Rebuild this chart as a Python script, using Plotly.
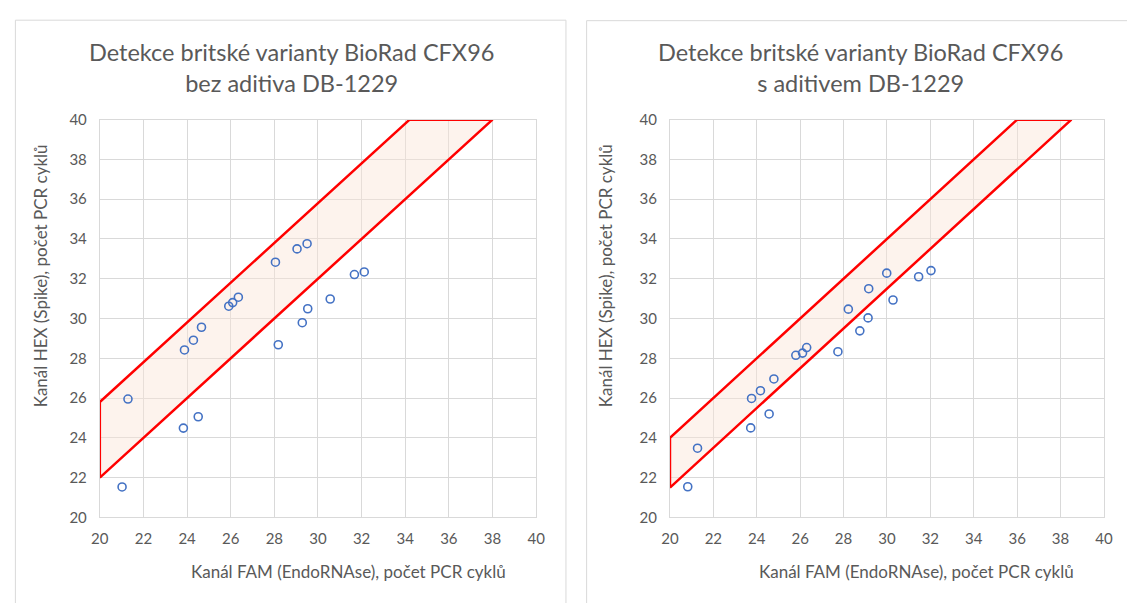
import plotly.graph_objects as go

# ---- data ----
fam_without = [21.29, 21.02, 23.83, 24.51, 23.88, 24.29, 24.66, 25.91, 26.09, 26.35,
               28.05, 29.04, 29.50, 28.18, 29.28, 29.53, 30.56, 31.67, 32.12]
hex_without = [25.95, 21.53, 24.49, 25.06, 28.42, 28.91, 29.56, 30.62, 30.80, 31.07,
               32.83, 33.50, 33.76, 28.68, 29.79, 30.49, 30.98, 32.21, 32.34]

fam_with = [20.82, 21.27, 23.72, 24.57, 23.76, 24.17, 24.79, 25.80, 26.11, 26.30,
            27.74, 28.22, 28.75, 29.13, 29.16, 29.99, 30.28, 31.46, 32.03]
hex_with = [21.54, 23.48, 24.50, 25.20, 25.98, 26.37, 26.96, 28.15, 28.26, 28.54,
            28.33, 30.47, 29.38, 30.03, 31.50, 32.28, 30.93, 32.10, 32.41]

band_without_x = [20, 20, 34.2, 38.0, 20]
band_without_y = [22.0, 25.8, 40, 40, 22.0]
band_with_x = [20, 20, 36.0, 38.5, 20]
band_with_y = [21.5, 24.0, 40, 40, 21.5]

tick_vals = [20, 22, 24, 26, 28, 30, 32, 34, 36, 38, 40]

titles = ["Detekce britské varianty BioRad CFX96<br>bez aditiva DB-1229",
          "Detekce britské varianty BioRad CFX96<br>s aditivem DB-1229"]
x_title = "Kanál FAM (EndoRNAse), počet PCR cyklů"
y_title = "Kanál HEX (Spike), počet PCR cyklů"

W, H = 1127, 603
FONT = "Lato"
GRID = "#D9D9D9"
TXT = "#595959"

fig = go.Figure()

for i, (bx, by, fx, hy) in enumerate([
        (band_without_x, band_without_y, fam_without, hex_without),
        (band_with_x, band_with_y, fam_with, hex_with)]):
    xa = "x" if i == 0 else "x2"
    ya = "y" if i == 0 else "y2"
    fig.add_trace(go.Scatter(x=bx, y=by, mode="lines", fill="toself",
                             fillcolor="rgba(251,229,214,0.45)",
                             line=dict(color="#FF0000", width=2.5),
                             xaxis=xa, yaxis=ya, showlegend=False, hoverinfo="skip"))
    fig.add_trace(go.Scatter(x=fx, y=hy, mode="markers",
                             marker=dict(symbol="circle-open", size=8,
                                         color="#4472C4", line=dict(width=1.6)),
                             xaxis=xa, yaxis=ya, showlegend=False))

def px_x(p):
    return p / W

def px_y(p):
    return 1 - p / H

ax_common = dict(range=[20, 40], tickvals=tick_vals, showgrid=True, gridcolor=GRID,
                 gridwidth=1, showline=True, linecolor=GRID, linewidth=1, mirror=True,
                 zeroline=False, tickfont=dict(family=FONT, size=15, color=TXT),
                 fixedrange=True)

left_dom = [px_x(92.3), px_x(535.7)]
right_dom = [px_x(671.7), px_x(1112.7)]
y_dom = [px_y(523), px_y(113)]

fig.update_layout(
    width=W, height=H, margin=dict(l=0, r=0, t=0, b=0),
    paper_bgcolor="white", plot_bgcolor="white",
    xaxis=dict(domain=left_dom, anchor="y", ticklabelstandoff=8, **ax_common),
    yaxis=dict(domain=y_dom, anchor="x", ticklabelstandoff=9, **ax_common),
    xaxis2=dict(domain=right_dom, anchor="y2", ticklabelstandoff=8, **ax_common),
    yaxis2=dict(domain=y_dom, anchor="x2", ticklabelstandoff=9, **ax_common),
)

# panel borders
fig.add_shape(type="rect", xref="paper", yref="paper",
              x0=px_x(6.5), x1=px_x(566), y0=-0.05, y1=px_y(10.5),
              line=dict(color="#D9D9D9", width=1), layer="below")
fig.add_shape(type="rect", xref="paper", yref="paper",
              x0=px_x(587), x1=1.05, y0=-0.05, y1=px_y(11),
              line=dict(color="#D9D9D9", width=1), layer="below")

# titles and axis titles
for cx, ycx, xtx, t in [(287, 32, 345, titles[0]), (865, 607, 922, titles[1])]:
    fig.add_annotation(text=t, x=px_x(cx), y=px_y(59.5), xref="paper", yref="paper",
                       showarrow=False, xanchor="center", yanchor="middle",
                       font=dict(family=FONT, size=23.5, color=TXT))
    fig.add_annotation(text=x_title, x=px_x(xtx), y=px_y(579), xref="paper", yref="paper",
                       showarrow=False, xanchor="center", yanchor="middle",
                       font=dict(family=FONT, size=17, color=TXT))
    fig.add_annotation(text=y_title, x=px_x(ycx), y=px_y(274), xref="paper", yref="paper",
                       showarrow=False, xanchor="center", yanchor="middle", textangle=-90,
                       font=dict(family=FONT, size=17, color=TXT))

fig.write_html("out.html", config={"displayModeBar": False},
               post_script="document.body.style.margin='0';document.body.style.overflow='hidden';")
